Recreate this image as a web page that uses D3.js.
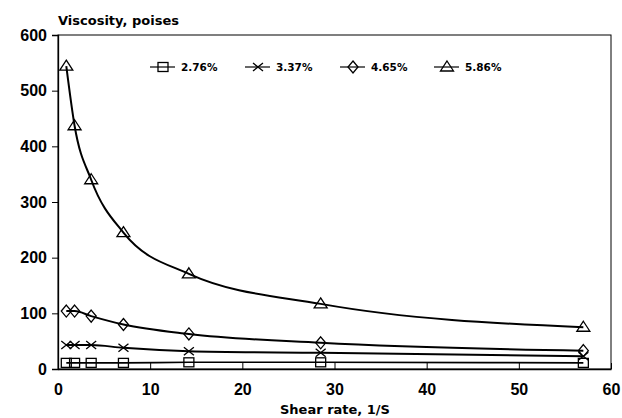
<!DOCTYPE html>
<html>
<head>
<meta charset="utf-8">
<script src="https://cdn.jsdelivr.net/npm/d3@7"></script>
<style>
  body { margin: 0; background: #fff; }
  svg { font-family: "DejaVu Sans", "Liberation Sans", Arial, sans-serif; }
</style>
</head>
<body>
<div id="chart"></div>
<script>
// shear rate, 1/S
const shearRate = [0.9, 1.8, 3.6, 7.1, 14.2, 28.5, 57];

// viscosity, poises
const conc276 = [11, 11, 11, 11, 12, 12, 11];
const conc337 = [43, 43, 43, 38, 32, 29, 23];
const conc465 = [104, 104, 95, 80, 63, 47, 33];
const conc586 = [544, 437, 340, 245, 171, 117, 75];

const seriesNames = ["2.76%", "3.37%", "4.65%", "5.86%"];
const seriesSymbols = ["square", "cross", "diamond", "triangle"];

const xTicks = [0, 10, 20, 30, 40, 50, 60];
const yTicks = [0, 100, 200, 300, 400, 500, 600];

const width = 622, height = 418;
const margin = {left: 58, right: 11, top: 35, bottom: 49};

const svg = d3.select("#chart").append("svg")
  .attr("width", width).attr("height", height);

const x = d3.scaleLinear().domain([0, 60]).range([margin.left, width - margin.right]);
const y = d3.scaleLinear().domain([0, 600]).range([height - margin.bottom, margin.top]);

// frame
svg.append("rect")
  .attr("x", x(0)).attr("y", y(600))
  .attr("width", x(60) - x(0)).attr("height", y(0) - y(600))
  .attr("fill", "none").attr("stroke", "#000").attr("stroke-width", 1);

// y axis
const yAxis = svg.append("g")
  .attr("transform", `translate(${x(0)},0)`)
  .call(d3.axisLeft(y).tickValues(yTicks).tickSize(6).tickPadding(5));
yAxis.select(".domain").attr("stroke-width", 1.3);
yAxis.selectAll("text").attr("font-size", 16).attr("font-weight", "bold").attr("fill", "#000");

// x axis, ticks point inward
const xAxis = svg.append("g")
  .attr("transform", `translate(0,${y(0)})`)
  .call(d3.axisBottom(x).tickValues(xTicks).tickSizeInner(-6).tickSizeOuter(0).tickPadding(15));
xAxis.select(".domain").attr("stroke-width", 1.3);
xAxis.selectAll("text").attr("font-size", 16).attr("font-weight", "bold").attr("fill", "#000");

// titles
svg.append("text")
  .attr("x", 58).attr("y", 25)
  .attr("font-size", 13).attr("font-weight", "bold")
  .text("Viscosity, poises");

svg.append("text")
  .attr("x", 335).attr("y", 414)
  .attr("text-anchor", "middle")
  .attr("font-size", 13).attr("font-weight", "bold")
  .text("Shear rate, 1/S");

// marker drawing
function marker(g, type) {
  if (type === "square") {
    g.append("rect").attr("x", -5).attr("y", -4.5).attr("width", 10).attr("height", 9)
      .attr("fill", "none").attr("stroke", "#000").attr("stroke-width", 1.3);
  } else if (type === "cross") {
    g.append("path").attr("d", "M-5,-4L5,4M-5,4L5,-4")
      .attr("fill", "none").attr("stroke", "#000").attr("stroke-width", 1.3);
  } else if (type === "diamond") {
    g.append("path").attr("d", "M0,-6L5,0L0,6L-5,0Z")
      .attr("fill", "none").attr("stroke", "#000").attr("stroke-width", 1.3);
  } else {
    g.append("path").attr("d", "M0,-6L6.5,4L-6.5,4Z")
      .attr("fill", "none").attr("stroke", "#000").attr("stroke-width", 1.3);
  }
}

const allSeries = [conc276, conc337, conc465, conc586];

const line = d3.line()
  .curve(d3.curveMonotoneX)
  .x((d, i) => x(shearRate[i]))
  .y(d => y(d));

allSeries.forEach((vals, si) => {
  svg.append("path")
    .attr("d", line(vals))
    .attr("fill", "none")
    .attr("stroke", "#000")
    .attr("stroke-width", si === 0 ? 1.6 : 2);

  vals.forEach((v, i) => {
    const g = svg.append("g").attr("transform", `translate(${x(shearRate[i])},${y(v)})`);
    marker(g, seriesSymbols[si]);
  });
});

// legend
const legendX = [150, 245, 340, 434];
const legendY = 67;
seriesNames.forEach((name, i) => {
  const lg = svg.append("g").attr("transform", `translate(${legendX[i]},${legendY})`);
  lg.append("line").attr("x1", 0).attr("x2", 25).attr("y1", 0).attr("y2", 0)
    .attr("stroke", "#000").attr("stroke-width", 1.2);
  marker(lg.append("g").attr("transform", "translate(13,0)"), seriesSymbols[i]);
  lg.append("text").attr("x", 31).attr("y", 4)
    .attr("font-size", 10.5).attr("font-weight", "bold")
    .text(name);
});
</script>
</body>
</html>
